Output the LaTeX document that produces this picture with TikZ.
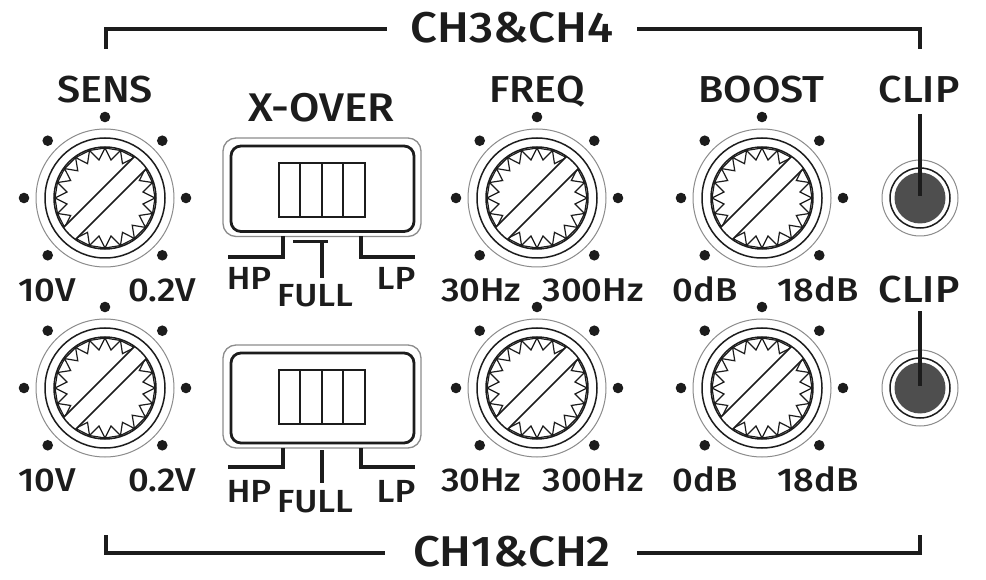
\documentclass[tikz,border=0pt]{standalone}
\usepackage{fontspec}
\newfontfamily\lbl{Fira Sans Medium}[FakeStretch=1.1]
\definecolor{ink}{HTML}{1C1C1C}
\definecolor{ringgray}{HTML}{8C8C8C}
\definecolor{ledfill}{HTML}{4E4E4E}
\tikzset{
  title/.style={font=\lbl\fontsize{37.5}{40}\selectfont, text=ink, inner sep=0pt, anchor=base},
  bigtitle/.style={font=\lbl\fontsize{43}{46}\selectfont, text=ink, inner sep=0pt, anchor=base},
  small/.style={font=\lbl\fontsize{33}{36}\selectfont, text=ink, inner sep=0pt, anchor=base},
  swlbl/.style={font=\lbl\fontsize{32}{35}\selectfont, text=ink, inner sep=0pt, anchor=base},
  bracket/.style={draw=ink, line width=4pt, line join=miter},
  teeth/.style={draw=ink, line width=1.2pt, line join=miter},
  ring/.style={draw=ink, line width=1.5pt},
  outerring/.style={draw=ringgray, line width=1pt},
  dot/.style={fill=ink},
}
\newcommand\knobat[2]{%
  \begin{scope}[shift={(#1,#2)}]
    \foreach \a in {-90,-45,0,45,-135,180,135} \fill[dot] (\a:81) circle (5.3pt);
    \foreach \k in {0,...,19}{
      \draw[teeth] ({\k*18}:50) -- ({\k*18+9}:38.5) -- ({\k*18+18}:50) -- cycle;
    }
    \begin{scope}
      \clip (0,0) circle (51pt);
      \fill[white] (36.42,-48.44) -- (-48.44,36.42) -- (-36.42,48.44) -- (48.44,-36.42) -- cycle;
    \end{scope}
    \draw[ring] (29.55,-41.57) -- (-41.57,29.55);
    \draw[ring] (41.57,-29.55) -- (-29.55,41.57);
    \draw[ring] (0,0) circle (51pt);
    \draw[ring] (0,0) circle (60pt);
    \draw[outerring] (0,0) circle (69pt);
  \end{scope}}
% \xoverat{top}{bottom}{hp-bottom}{full-top}{full-bottom}
\newcommand\xoverat[5]{%
  \draw[outerring, line width=1.3pt, rounded corners=13pt] (223,#1) rectangle (421,#2);
  \draw[draw=ink, line width=2.8pt, rounded corners=10pt] (231,#1+8) rectangle (414,#2-5);
  \draw[draw=ink, line width=2pt] (278.5,#1+25) rectangle (365,#1+79);
  \foreach \xx in {300.1,321.75,343.4} \draw[draw=ink, line width=2pt] (\xx,#1+25) -- (\xx,#1+79);
  \draw[bracket] (282.5,#2) -- (282.5,#3) -- (228,#3);
  \draw[bracket] (360.5,#2) -- (360.5,#3) -- (414.5,#3);
  \draw[bracket] (322,#4) -- (322,#5);}
\begin{document}
\begin{tikzpicture}[x=1pt,y=-1pt]
\useasboundingbox (0,0) rectangle (986,580);
\fill[white] (0,0) rectangle (986,580);

% brackets and group titles
\node[bigtitle] (ch34) at (512,43) {CH3\&CH4};
\node[bigtitle] (ch12) at (512,566) {CH1\&CH2};
\coordinate (tl) at (105.5,49); \coordinate (tla) at (105.5,29); \coordinate (tlb) at (387,29);
\coordinate (tr) at (920,49);   \coordinate (tra) at (920,29);   \coordinate (trb) at (637,29);
\draw[bracket] (tl) -- (tla) -- (tlb);
\draw[bracket] (tr) -- (tra) -- (trb);
\coordinate (bl) at (105.5,535); \coordinate (bla) at (105.5,553); \coordinate (blb) at (385,553);
\coordinate (br) at (920,535);   \coordinate (bra) at (920,553);   \coordinate (brb) at (637,553);
\draw[bracket] (bl) -- (bla) -- (blb);
\draw[bracket] (br) -- (bra) -- (brb);

% column titles
\node[title] (sens) at (105,103) {SENS};
\node[title, font=\lbl\fontsize{40}{43}\selectfont] (xover) at (321.5,122) {X-OVER};
\node[title] (freq) at (537,103) {FREQ};
\node[title] (boost) at (761.5,103) {BOOST};
\node[title] (clipa) at (919,103) {CLIP};
\node[title] (clipb) at (919,303) {CLIP};

% knobs
\knobat{105}{198}
\knobat{105}{388}
\knobat{537}{198}
\knobat{537}{388}
\knobat{762}{198}
\knobat{762}{388}

% knob scale labels
\node[small] (s1a) at (47,301.5) {10V};
\node[small] (s1b) at (162,301.5) {0.2V};
\node[small] (s2a) at (47,491) {10V};
\node[small] (s2b) at (162,491) {0.2V};
\node[small] (f1a) at (481,301.5) {30Hz};
\node[small] (f1b) at (593,301.5) {300Hz};
\node[small] (f2a) at (481,491) {30Hz};
\node[small] (f2b) at (593,491) {300Hz};
\node[small] (b1a) at (705,301.5) {0dB};
\node[small] (b1b) at (818,301.5) {18dB};
\node[small] (b2a) at (705,491) {0dB};
\node[small] (b2b) at (818,491) {18dB};

% crossover switches
\xoverat{138}{236.5}{257}{243}{278}
\draw[bracket, line width=3pt] (293,242) -- (328,242);
\node[swlbl] (hpa) at (249,290) {HP};
\node[swlbl] (fulla) at (315,306) {FULL};
\node[swlbl] (lpa) at (396,290) {LP};
\xoverat{345}{448}{467}{450}{483}
\node[swlbl] (hpb) at (249,502) {HP};
\node[swlbl] (fullb) at (315,512) {FULL};
\node[swlbl] (lpb) at (396,502) {LP};

% clip LEDs
\foreach \yy/\nm in {198/leda,388/ledb}{
  \draw[outerring] (920,\yy) circle (38pt);
  \draw[ring] (920,\yy) circle (30pt);
  \fill[ledfill] (920,\yy) circle (25.5pt);
  \coordinate (\nm) at (920,\yy-2);
}
\coordinate (la) at (920,114);
\coordinate (lb) at (920,311.5);
\draw[draw=ink, line width=4pt] (la) -- (leda);
\draw[draw=ink, line width=4pt] (lb) -- (ledb);
\end{tikzpicture}
\end{document}
